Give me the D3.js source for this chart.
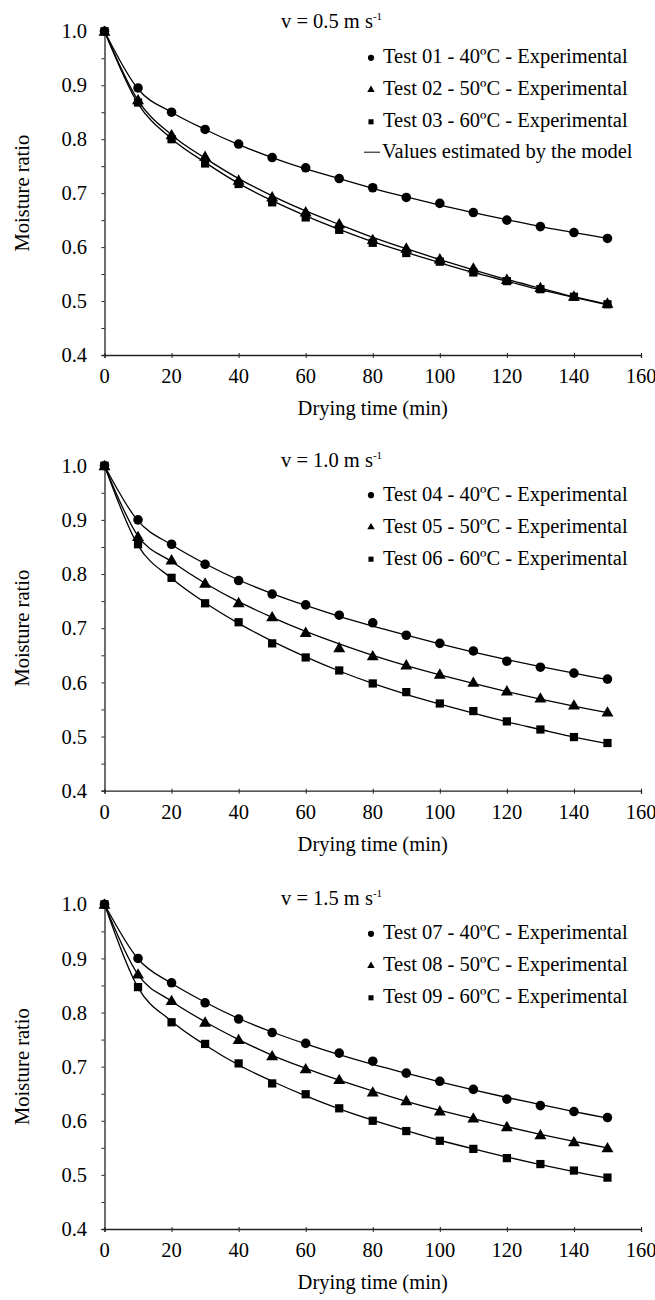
<!DOCTYPE html>
<html>
<head>
<meta charset="utf-8">
<script src="https://cdn.jsdelivr.net/npm/d3@7"></script>
<style>
  html, body { margin: 0; padding: 0; background: #fff; }
  svg text { font-family: "Liberation Serif", "Times New Roman", Times, serif; fill: #000; }
</style>
</head>
<body>
<svg id="chart" width="655" height="1300" font-family="Liberation Serif, Times New Roman, serif"></svg>
<script>
// ---------------- DATA ----------------
const times = [0, 10, 20, 30, 40, 50, 60, 70, 80, 90, 100, 110, 120, 130, 140, 150];
const xTicks = [0, 20, 40, 60, 80, 100, 120, 140, 160];
const yTicks = [0.4, 0.5, 0.6, 0.7, 0.8, 0.9, 1.0];
const yMinorTicks = [0.4, 0.45, 0.5, 0.55, 0.6, 0.65, 0.7, 0.75, 0.8, 0.85, 0.9, 0.95, 1.0];

const panelTitles = ["0.5", "1.0", "1.5"];
const seriesNames = [
  ["Test 01 - 40ºC - Experimental", "Test 02 - 50ºC - Experimental", "Test 03 - 60ºC - Experimental"],
  ["Test 04 - 40ºC - Experimental", "Test 05 - 50ºC - Experimental", "Test 06 - 60ºC - Experimental"],
  ["Test 07 - 40ºC - Experimental", "Test 08 - 50ºC - Experimental", "Test 09 - 60ºC - Experimental"]
];
const modelLabel = "Values estimated by the model";

// Panel 1 (v = 0.5 m/s)
const exp01 = [1.0, 0.895, 0.850, 0.818, 0.791, 0.766, 0.747, 0.727, 0.710, 0.692, 0.681, 0.664, 0.650, 0.638, 0.627, 0.616];
const exp02 = [1.0, 0.873, 0.808, 0.768, 0.724, 0.693, 0.665, 0.643, 0.614, 0.598, 0.578, 0.561, 0.540, 0.525, 0.509, 0.496];
const exp03 = [1.0, 0.868, 0.800, 0.755, 0.717, 0.683, 0.655, 0.632, 0.608, 0.589, 0.573, 0.553, 0.537, 0.522, 0.508, 0.494];
const mod01 = [1.0, 0.893, 0.850, 0.818, 0.790, 0.766, 0.745, 0.727, 0.709, 0.693, 0.678, 0.664, 0.651, 0.638, 0.627, 0.616];
const mod02 = [1.0, 0.872, 0.808, 0.765, 0.727, 0.695, 0.667, 0.642, 0.618, 0.597, 0.577, 0.558, 0.540, 0.524, 0.508, 0.494];
const mod03 = [1.0, 0.866, 0.801, 0.757, 0.718, 0.686, 0.658, 0.633, 0.610, 0.590, 0.571, 0.553, 0.537, 0.521, 0.507, 0.493];

// Panel 2 (v = 1.0 m/s)
const exp04 = [1.0, 0.900, 0.855, 0.818, 0.788, 0.763, 0.743, 0.724, 0.710, 0.687, 0.672, 0.658, 0.639, 0.628, 0.617, 0.606];
const exp05 = [1.0, 0.869, 0.826, 0.783, 0.747, 0.721, 0.692, 0.664, 0.649, 0.632, 0.615, 0.600, 0.584, 0.571, 0.558, 0.545];
const exp06 = [1.0, 0.855, 0.793, 0.746, 0.711, 0.672, 0.646, 0.622, 0.598, 0.582, 0.561, 0.547, 0.528, 0.513, 0.499, 0.488];
const mod04 = [1.0, 0.898, 0.854, 0.819, 0.789, 0.764, 0.742, 0.722, 0.704, 0.687, 0.671, 0.656, 0.642, 0.629, 0.617, 0.605];
const mod05 = [1.0, 0.870, 0.823, 0.783, 0.749, 0.720, 0.694, 0.671, 0.650, 0.631, 0.614, 0.598, 0.583, 0.569, 0.556, 0.544];
const mod06 = [1.0, 0.853, 0.792, 0.747, 0.709, 0.676, 0.647, 0.621, 0.598, 0.578, 0.560, 0.543, 0.527, 0.513, 0.499, 0.487];

// Panel 3 (v = 1.5 m/s)
const exp07 = [1.0, 0.900, 0.855, 0.818, 0.788, 0.763, 0.743, 0.725, 0.710, 0.688, 0.673, 0.658, 0.640, 0.628, 0.617, 0.606];
const exp08 = [1.0, 0.871, 0.822, 0.782, 0.750, 0.720, 0.696, 0.676, 0.653, 0.637, 0.618, 0.605, 0.589, 0.574, 0.561, 0.550];
const exp09 = [1.0, 0.847, 0.782, 0.742, 0.706, 0.669, 0.649, 0.623, 0.600, 0.581, 0.563, 0.548, 0.531, 0.520, 0.508, 0.495];
const mod07 = [1.0, 0.899, 0.854, 0.819, 0.789, 0.764, 0.742, 0.722, 0.704, 0.688, 0.672, 0.657, 0.643, 0.630, 0.617, 0.605];
const mod08 = [1.0, 0.870, 0.821, 0.783, 0.750, 0.721, 0.697, 0.675, 0.655, 0.636, 0.619, 0.604, 0.589, 0.575, 0.562, 0.550];
const mod09 = [1.0, 0.846, 0.784, 0.740, 0.703, 0.673, 0.646, 0.622, 0.601, 0.582, 0.564, 0.548, 0.533, 0.519, 0.506, 0.494];

const panelExp = [[exp01, exp02, exp03], [exp04, exp05, exp06], [exp07, exp08, exp09]];
const panelMod = [[mod01, mod02, mod03], [mod04, mod05, mod06], [mod07, mod08, mod09]];

// ---------------- LAYOUT ----------------
const FF = "Liberation Serif, Times New Roman, serif";
const FONT = 20.5;
const xLeft = 104.5, xRight = 641;
const panels = [
  { top: 31.3, bottom: 355, titleDy: -3, legendDy: [32, 64, 96, 127], showModel: true },
  { top: 465.7, bottom: 790.7, titleDy: 1, legendDy: [35, 67, 99], showModel: false },
  { top: 904.3, bottom: 1229, titleDy: 1, legendDy: [35, 67, 99], showModel: false }
];
const shapes = [d3.symbolCircle, d3.symbolTriangle, d3.symbolSquare];
const shapeSizes = [72, 62, 68];
const legendSizes = [30, 24, 26];

const svg = d3.select("#chart");
svg.append("rect").attr("width", 655).attr("height", 1300).attr("fill", "#fff");

const x = d3.scaleLinear().domain([0, 160]).range([xLeft, xRight]);

panels.forEach((p, pi) => {
  const y = d3.scaleLinear().domain([0.4, 1.0]).range([p.bottom, p.top]);
  const g = svg.append("g").attr("font-family", FF);

  // Y axis (all ticks every 0.05, labels every 0.1)
  const yAx = g.append("g").attr("transform", `translate(${xLeft},0)`)
    .call(d3.axisLeft(y).tickValues(yMinorTicks).tickSize(3).tickFormat(""));
  yAx.select(".domain").attr("stroke", "#222").attr("stroke-width", 1.3);
  yAx.selectAll(".tick line").attr("stroke", "#222").attr("stroke-width", 1);

  g.selectAll(".ylab").data(yTicks).join("text")
    .attr("font-family", FF)
    .attr("x", 87).attr("y", d => y(d)).attr("dy", "0.35em")
    .attr("text-anchor", "end").attr("font-size", FONT)
    .text(d => d3.format(".1f")(d));

  // X axis
  const xAx = g.append("g").attr("transform", `translate(0,${p.bottom})`)
    .call(d3.axisBottom(x).tickValues(xTicks).tickSize(3).tickFormat(""));
  xAx.select(".domain").attr("stroke", "#222").attr("stroke-width", 1.3);
  xAx.selectAll(".tick line").attr("stroke", "#222").attr("stroke-width", 1).attr("y1", -2);

  g.selectAll(".xlab").data(xTicks).join("text")
    .attr("font-family", FF)
    .attr("x", d => x(d)).attr("y", p.bottom + 28)
    .attr("text-anchor", "middle").attr("font-size", FONT)
    .text(d => d);

  // Axis titles
  g.append("text").attr("font-family", FF)
    .attr("transform", `translate(29,${(p.top + p.bottom) / 2}) rotate(-90)`)
    .attr("text-anchor", "middle").attr("font-size", FONT)
    .text("Moisture ratio");
  g.append("text").attr("font-family", FF)
    .attr("x", (xLeft + xRight) / 2).attr("y", p.bottom + 60)
    .attr("text-anchor", "middle").attr("font-size", FONT)
    .text("Drying time (min)");

  // Panel title
  const t = g.append("text").attr("font-family", FF)
    .attr("x", 281).attr("y", p.top + p.titleDy).attr("font-size", FONT);
  t.append("tspan").text(`v = ${panelTitles[pi]} m s`);
  t.append("tspan").attr("font-size", 11).attr("dy", -8).text("-1");

  // Model lines
  const line = d3.line()
    .x((d, i) => x(times[i]))
    .y(d => y(d))
    .curve(d3.curveCardinal.tension(0));
  panelMod[pi].forEach(series => {
    g.append("path").datum(series)
      .attr("d", line)
      .attr("fill", "none").attr("stroke", "#000").attr("stroke-width", 1.3);
  });

  // Experimental markers
  panelExp[pi].forEach((series, si) => {
    g.selectAll(null).data(series).join("path")
      .attr("transform", (d, i) => `translate(${x(times[i])},${y(d) + (si === 1 ? 1 : 0)})`)
      .attr("d", d3.symbol().type(shapes[si]).size(shapeSizes[si]))
      .attr("fill", "#000");
  });

  // Legend
  seriesNames[pi].forEach((name, si) => {
    const by = p.top + p.legendDy[si];
    g.append("path")
      .attr("transform", `translate(371,${by - 5.5})`)
      .attr("d", d3.symbol().type(shapes[si]).size(legendSizes[si]))
      .attr("fill", "#000");
    g.append("text").attr("font-family", FF)
      .attr("x", 383).attr("y", by).attr("font-size", FONT).text(name);
  });
  if (p.showModel) {
    const by = p.top + p.legendDy[3];
    g.append("line").attr("x1", 364).attr("x2", 380).attr("y1", by - 6).attr("y2", by - 6)
      .attr("stroke", "#555").attr("stroke-width", 1.5);
    g.append("text").attr("font-family", FF)
      .attr("x", 382).attr("y", by).attr("font-size", FONT).text(modelLabel);
  }
});
</script>
</body>
</html>
